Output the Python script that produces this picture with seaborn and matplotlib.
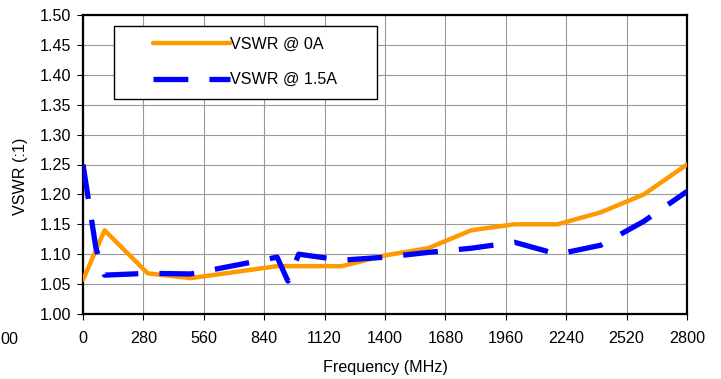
import matplotlib
matplotlib.use("Agg")
import matplotlib.pyplot as plt
import seaborn as sns
import numpy as np
import pandas as pd
from matplotlib.patches import Rectangle

# ---- data ----
freq_0a = [0, 100, 300, 500, 900, 1200, 1400, 1600, 1800, 2000, 2200, 2400, 2600, 2800]
vswr_0a = [1.057, 1.14, 1.068, 1.06, 1.08, 1.08, 1.098, 1.11, 1.14, 1.15, 1.15, 1.17, 1.20, 1.25]

freq_15a = [0, 60, 100, 300, 500, 900, 950, 1000, 1200, 1400, 1600, 1800, 2000, 2200, 2400, 2600, 2800]
vswr_15a = [1.25, 1.11, 1.065, 1.068, 1.067, 1.095, 1.055, 1.10, 1.09, 1.095, 1.103, 1.11, 1.12, 1.10, 1.115, 1.155, 1.205]

x_ticks = [0, 280, 560, 840, 1120, 1400, 1680, 1960, 2240, 2520, 2800]
y_ticks = [1.00, 1.05, 1.10, 1.15, 1.20, 1.25, 1.30, 1.35, 1.40, 1.45, 1.50]
labels = ["VSWR @ 0A", "VSWR @ 1.5A"]

sns.set_theme(style="white")
plt.rcParams['font.family'] = ['Liberation Sans', 'DejaVu Sans']
FS = 11.6

fig = plt.figure(figsize=(7.21, 3.79), dpi=100)
ax = fig.add_axes([83/721, 1 - 314/379, 604/721, 299/379])

df0 = pd.DataFrame({"f": freq_0a, "v": vswr_0a})
df1 = pd.DataFrame({"f": freq_15a, "v": vswr_15a})

sns.lineplot(data=df0, x="f", y="v", ax=ax, color="#FF9900", linewidth=3.2,
             label=labels[0], solid_joinstyle="round", zorder=3)
sns.lineplot(data=df1, x="f", y="v", ax=ax, color="#0000FF", linewidth=3.8,
             label=labels[1], zorder=4, dashes=False)
blue = ax.lines[-1]
blue.set_dashes((6.6, 4.0))
blue.set_dash_capstyle("butt")

ax.set_xlim(0, 2800)
ax.set_ylim(1.0, 1.5)
ax.set_xticks(x_ticks)
ax.set_yticks(y_ticks)
ax.set_xticklabels([str(t) for t in x_ticks], fontsize=FS, color="black")
ax.set_yticklabels([f"{t:.2f}" for t in y_ticks], fontsize=FS, color="black")
ax.tick_params(axis="both", direction="out", length=4.3, width=0.8, color="black",
               bottom=True, left=True)
ax.tick_params(axis="x", pad=8)
ax.tick_params(axis="y", pad=4.3)

ax.grid(True, color="#999999", linewidth=0.8)
ax.set_axisbelow(True)
for s in ax.spines.values():
    s.set_visible(True)
    s.set_color("black")
    s.set_linewidth(1.6)

ax.set_xlabel("Frequency (MHz)", fontsize=FS, color="black")
ax.set_ylabel("VSWR (:1)", fontsize=FS, color="black")
ax.xaxis.set_label_coords(0.5, (314 - 360) / 299)
ax.yaxis.set_label_coords((28 - 83) / 604, (314 - 176) / 299)

# legend frame
rect = Rectangle((31 / 604, (314 - 99) / 299), (377 - 114) / 604, (99 - 26) / 299,
                 transform=ax.transAxes, facecolor="white", edgecolor="black",
                 linewidth=1.0, zorder=5)
ax.add_patch(rect)
leg = ax.legend(loc="upper left", bbox_to_anchor=((153 - 83) / 604, (314 - 37) / 299),
                frameon=False, borderpad=0, borderaxespad=0, handlelength=4.8,
                handletextpad=0.0, labelspacing=1.25, fontsize=FS)
leg.set_zorder(6)
for t in leg.get_texts():
    t.set_color("black")

# clipped tick label remnant at the far left
fig.text(0.5 / 721, 1 - 339 / 379, "00", fontsize=FS, ha="left", va="center", color="black")

fig.savefig("out.png", dpi=100)
